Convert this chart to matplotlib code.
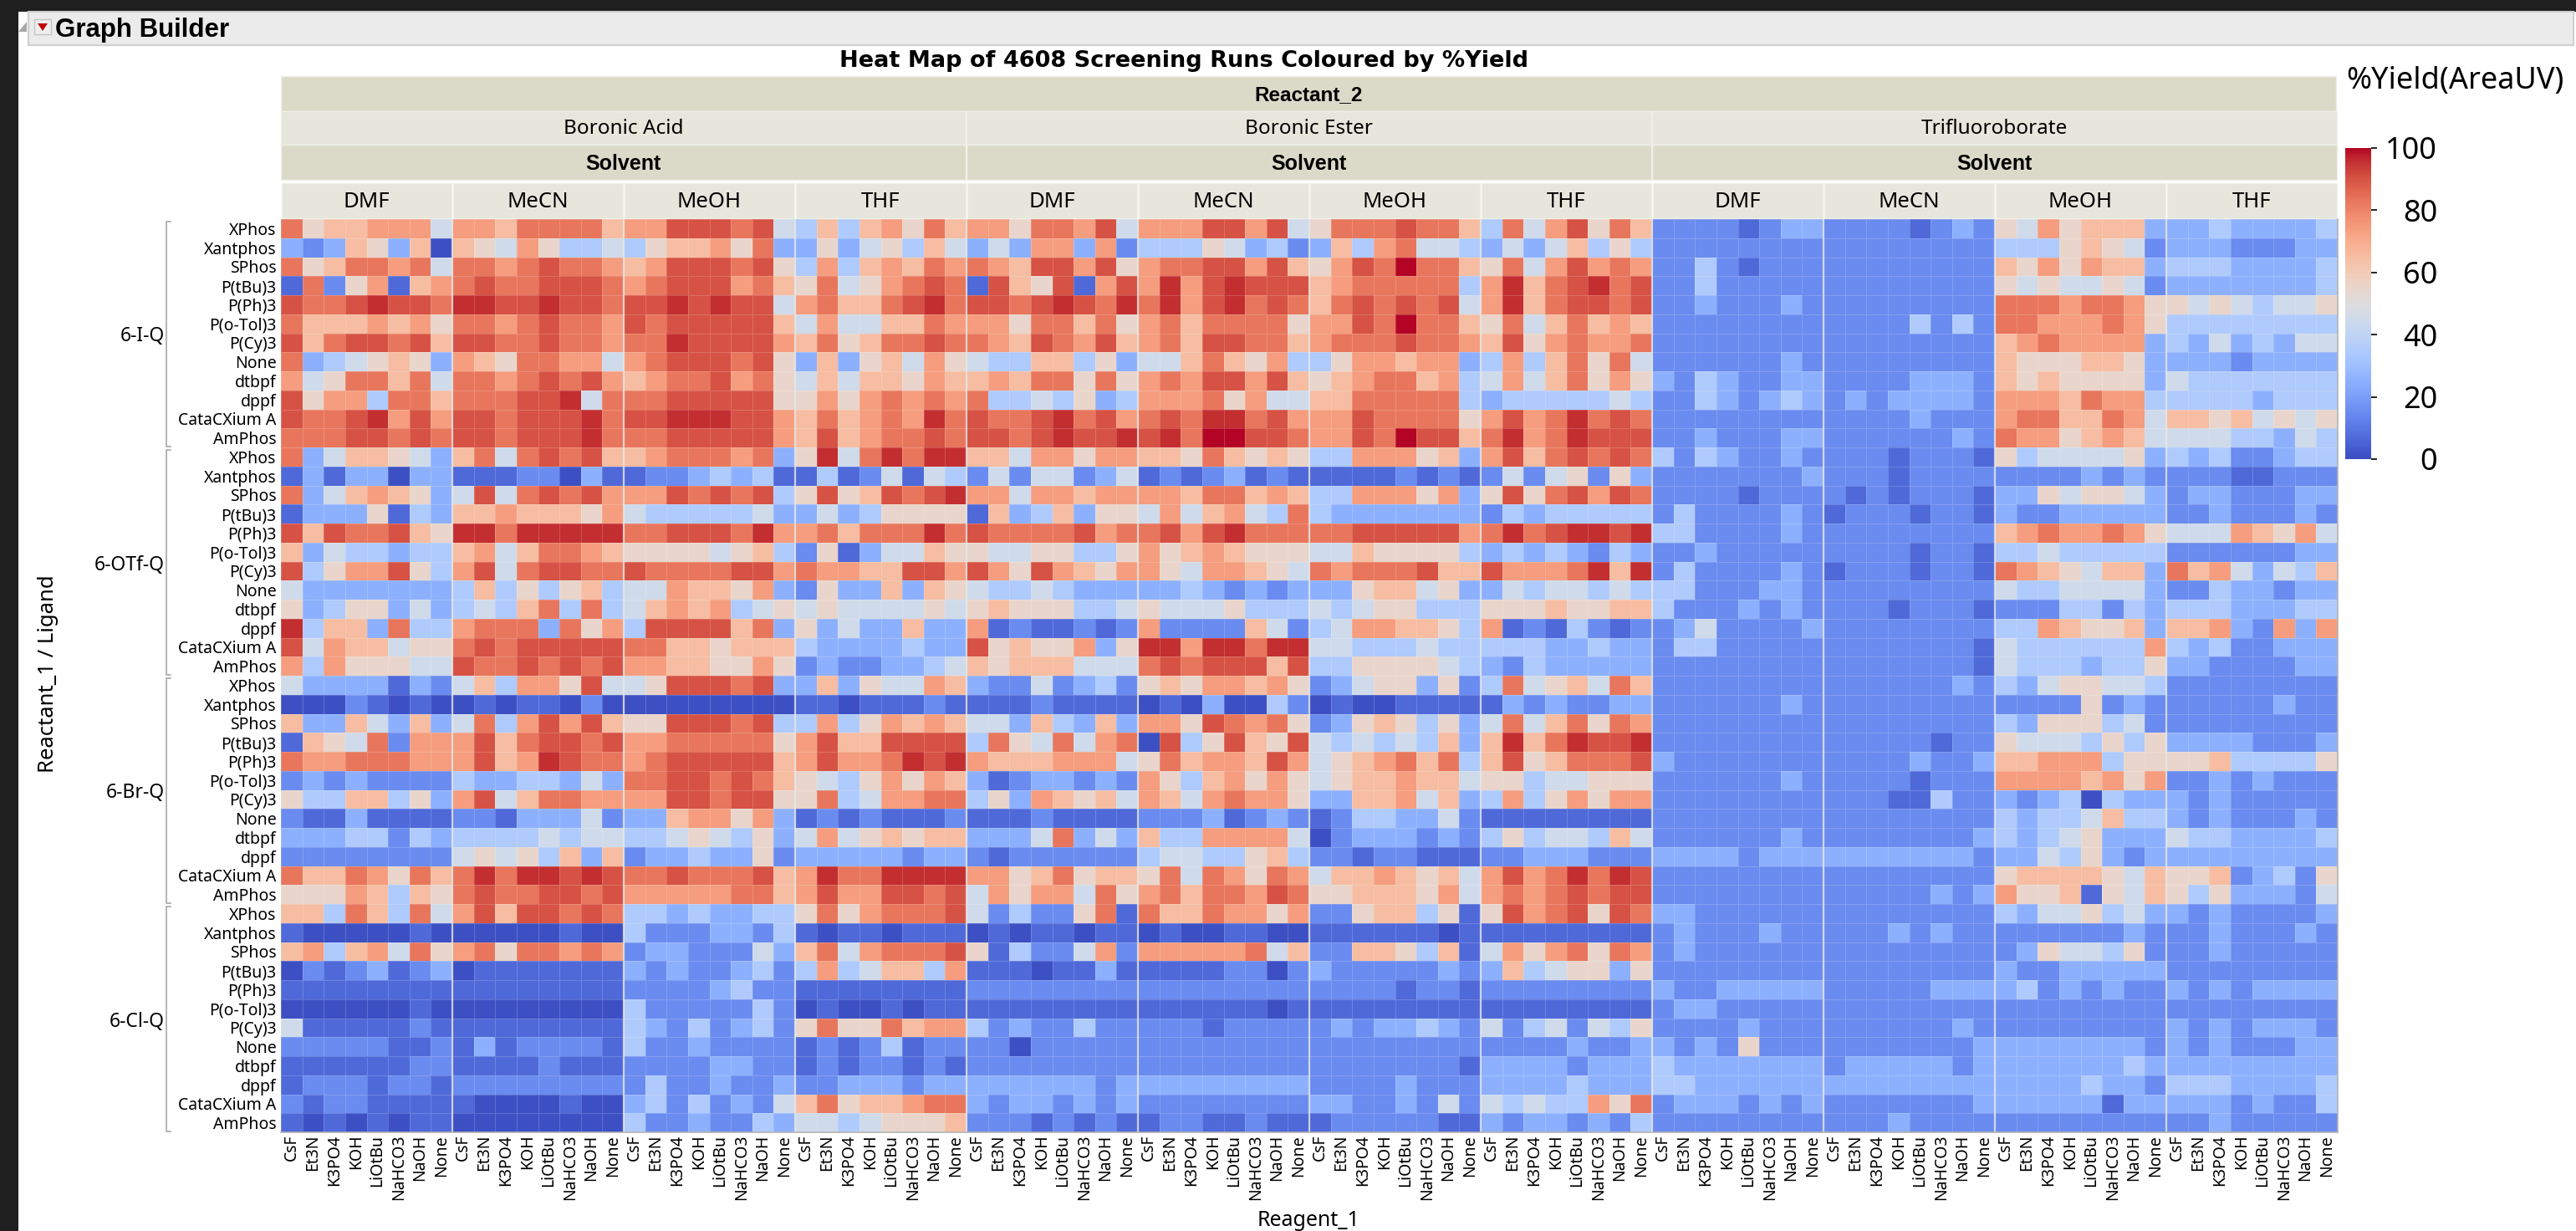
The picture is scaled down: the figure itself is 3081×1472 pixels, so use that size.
#!/usr/bin/env python
# -*- coding: utf-8 -*-

import numpy as np
import matplotlib
matplotlib.use('Agg')
import matplotlib.pyplot as plt
from matplotlib.patches import Rectangle, Polygon

plt.rcParams['font.family'] = ['Noto Sans', 'DejaVu Sans']

# labels
REACTANT_1 = ['6-I-Q', '6-OTf-Q', '6-Br-Q', '6-Cl-Q']
LIGANDS = ['XPhos', 'Xantphos', 'SPhos', 'P(tBu)3', 'P(Ph)3', 'P(o-Tol)3', 'P(Cy)3',
           'None', 'dtbpf', 'dppf', 'CataCXium A', 'AmPhos']
REACTANT_2 = ['Boronic Acid', 'Boronic Ester', 'Trifluoroborate']
SOLVENTS = ['DMF', 'MeCN', 'MeOH', 'THF']
REAGENTS = ['CsF', 'Et3N', 'K3PO4', 'KOH', 'LiOtBu', 'NaHCO3', 'NaOH', 'None']
COLORBAR_TICKS = [0, 20, 40, 60, 80, 100]

# %yield, one character per cell (see YIELD_LEVELS)
# rows: reactant_1 x ligand, groups: DMF MeCN MeOH THF
YIELD_LEVELS = {'a': 1, '0': 7, '1': 15, '2': 25, '3': 35, '4': 45, '5': 55,
                '6': 65, '7': 74, '8': 83, '9': 90, 'x': 96, 'z': 100}

BORONIC_ACID = [
    '85667774 77688886 77999894 36367586',
    '2126526a 65475334 35667582 25245364',
    '85688784 88789887 67999895 37367687',
    '08157067 89889998 78999786 58457898',
    '9889x998 xx99x998 99x9x994 786689x8',
    '86667675 88789887 98999996 47446687',
    '96899896 99889887 88x99997 68568898',
    '82345652 76588774 78999895 26256475',
    '74588684 88789897 67889785 46466576',
    '95773886 88899x48 88999995 57578787',
    '9889x797 998999x8 99xxx997 686787x8',
    '88899898 998999x8 88999997 69678898',
    '82466542 68489896 67888782 5x48x8xx',
    '02022a22 00011a20 01123230 03014043',
    '82467652 49489897 77989893 5956989x',
    '02225032 66766657 43333342 24235555',
    '96988965 xx8xxxxx 889998x7 786888x8',
    '62433233 67468876 55554563 15024465',
    '93577953 79489988 98888997 87766997',
    '42222222 36353563 44766572 15226265',
    '52355242 34368383 46767345 45444454',
    'x3662833 78882857 39999682 52422622',
    '94766455 89899999 88665666 32222322',
    '73755544 98898989 77665575 12112234',
    '42222021 46377594 45999892 26254476',
    'aaa10a0a a0a00a1a aaaaaaaa 00a00010',
    '62264262 48379796 55999893 37357676',
    '06548177 79689989 77888885 79669999',
    '87788877 7967x988 78999996 79778x9x',
    '12121111 32233242 88998986 54357576',
    '53366352 79468877 77998995 58347788',
    '10020000 11022241 22677572 01010001',
    '22233132 33334344 33454352 47456566',
    '11111111 45453626 12232251 22222122',
    '86687586 8x8xx9x9 88988896 7x88xxxx',
    '55576365 89889989 77777886 79779989',
    '66386384 79699898 33232233 58578889',
    '0aaaaa0a aaaaa0aa 31112213 0a00a000',
    '67367485 78588787 12211142 68478889',
    'a1012012 a0000000 21211231 37346637',
    '00000000 00000000 11112311 00000000',
    'aaaaaa0a aaaaaaaa 31111131 a0aa0a00',
    '40000010 00000000 32131231 58558677',
    '11111001 02011110 31121111 01013011',
    '00000011 00001000 11112211 01011010',
    '01110110 11111111 13112112 11222122',
    '10110000 0aaaa0aa 23131214 68566788',
    '0a0a0a00 aaaaaaaa 31121132 44345556',
]

BORONIC_ESTER = [
    '77588794 77799794 58889886 38479586',
    '24277271 33354231 26378443 24246353',
    '87699795 78899796 5798z886 58479787',
    '09659079 7x79x999 67888883 7x689x89',
    '9989x98x 8x79x898 68989894 7x689989',
    '77588685 78688885 7798z886 58468676',
    '87698796 78699886 78889887 69578778',
    '43366352 44686573 35776772 37368584',
    '67688585 78799796 56788673 47468575',
    '83343523 77785744 66888883 23333343',
    '9889x897 898xx897 77988885 7978x898',
    '9989x99x 9x8zz998 7798z996 8x78x999',
    '66477577 66586565 33777562 79689898',
    '14144124 01012010 00001010 14145152',
    '77477677 77688676 33777572 59589798',
    '06236255 47467438 32222222 13233333',
    '98888978 8979x888 88999997 8x89xx9x',
    '54455335 75676555 44655553 23232132',
    '97597657 75477654 87888966 97778x6x',
    '43343222 22321212 22566452 24344343',
    '56555334 54445333 43455333 55565566',
    '70100101 71111641 34776653 70103101',
    '95655725 xx7xx8xx 44333433 33322322',
    '65666444 89899969 33555543 21322222',
    '21141231 56577675 12455251 38456486',
    '00010000 a0a2aa31 a0aa0000 02121122',
    '44263262 77598785 12565352 48468587',
    '38548478 a9359659 43434362 6x68x99x',
    '76667774 58677697 45678683 69568889',
    '20122121 75367575 45667664 55344555',
    '35276564 76478775 22667462 37357577',
    '00010000 11120121 01332241 00000000',
    '22248242 63377774 a1222121 35344364',
    '10111111 34433563 11011000 11222111',
    '77568566 58487587 46676564 7978x8x9',
    '47577485 78688798 55666574 78789899',
    '41311580 86687757 11566350 59789598',
    'a0a00a00 a0aa00aa 000000a0 00000000',
    '50311471 77777846 11665360 47578587',
    '000a0020 000011a1 21111121 26345525',
    '11111111 11111111 11110110 11111111',
    '00000000 000000a0 00000000 00000000',
    '31211311 11101111 12122321 41341435',
    '11a11111 11111111 11111111 11112112',
    '11111111 11111111 11111110 22221222',
    '22222212 22222222 11112111 22223222',
    '21221212 11111111 22112141 43433758',
    '11101010 01100100 01111100 21221213',
]

TRIFLUOROBORATE = [
    '11110122 11110121 54756662 22322223',
    '11111111 11111111 33356541 22211122',
    '11310111 11111111 65757662 33322223',
    '11311111 11111111 54544541 22222223',
    '11211121 11111111 88878875 54543445',
    '11111111 11113131 88777875 33333333',
    '11111111 11111111 67877772 32423244',
    '11111121 11111111 65556652 22212222',
    '21321122 11112221 65655552 43333333',
    '11321232 12122221 77768773 33332333',
    '11111111 11112111 78866874 66564545',
    '11211122 11111121 87756764 44433243',
    '31321121 11101110 53444452 32311233',
    '11111112 11101111 11112121 11100111',
    '11110111 10101110 22545542 12211122',
    '13111121 01110110 21122222 11211121',
    '33111121 11111111 67877875 44476574',
    '11211111 11110110 33433333 11111122',
    '13111121 01110110 87654662 86742436',
    '33111221 11111111 43344442 11322122',
    '31112121 11101110 11133132 33322233',
    '12411112 11111111 33765562 66721727',
    '13311111 11111110 43333337 32311222',
    '11111111 11111110 43332335 22111122',
    '11111111 11111121 32455443 11111111',
    '11111121 11111111 11115121 11111211',
    '11111111 11111111 32555341 11111111',
    '11111111 11111011 54443535 22221112',
    '21111111 11112112 66777355 55633335',
    '11111121 11110111 77776757 11212111',
    '11111111 11100311 2123a322 21211111',
    '11111111 11111111 32334633 21211121',
    '11111121 11111112 32345222 43322223',
    '22221222 22222221 22435212 22222222',
    '11111111 11111111 56666546 55612315',
    '11111111 11111212 75560546 53522214',
    '22111111 11111111 32445342 21211112',
    '12111211 11121211 11111121 11211121',
    '12111111 11111111 12544351 11211111',
    '11111111 11111111 21122222 11111111',
    '21122222 11111222 23121211 21212222',
    '12211111 11111111 11111111 11111111',
    '11112111 11111121 11111111 21212221',
    '21215111 11111112 22222221 21211122',
    '32222222 12222212 22222232 22222222',
    '33222222 22222222 22223221 33322223',
    '12221212 11111112 22222022 22212113',
    '11111111 11121111 11111111 11211111',
]

W, H = 3081, 1472
X0, X1, Y0, Y1 = 336, 2796, 262, 1354
DARK_BAND = '#dbd9c8'
LIGHT_BAND = '#e6e6dc'
BOLD_FONT = ['Liberation Sans', 'DejaVu Sans']


def decode(rows):
    return [[YIELD_LEVELS[c] for c in r.replace(' ', '')] for r in rows]


def px_rect(x0, y0, x1, y1):
    # pixel box (y down) to figure fraction
    return [x0 / W, 1 - y1 / H, (x1 - x0) / W, (y1 - y0) / H]


yields = np.hstack([decode(BORONIC_ACID), decode(BORONIC_ESTER), decode(TRIFLUOROBORATE)])
n_rows, n_cols = yields.shape

fig = plt.figure(figsize=(W / 100, H / 100), dpi=100, facecolor='white')

# page furniture and header bands are drawn in pixel coordinates
bg = fig.add_axes([0, 0, 1, 1])
bg.set_xlim(0, W)
bg.set_ylim(H, 0)
bg.axis('off')

bg.add_patch(Rectangle((0, 0), W, 14, color='#1f1f1f', lw=0))
bg.add_patch(Rectangle((0, 0), 22, H, color='#1f1f1f', lw=0))
bg.add_patch(Rectangle((34, 14), W - 37, 40, facecolor='#ebebeb', edgecolor='#cfcfcf', lw=1.5))
bg.add_patch(Rectangle((41, 23), 20, 18, facecolor='#eeeeee', edgecolor='#c4c4c4', lw=1))
bg.add_patch(Polygon([[45, 28], [57, 28], [51, 37]], color='#c00000', lw=0))
bg.add_patch(Polygon([[22, 38], [32, 26], [32, 38]], color='#a8a8a8', lw=0))
bg.text(66, 36, 'Graph Builder', fontsize=22.5, fontweight='bold', family=BOLD_FONT,
        ha='left', va='center')

bg.text(1416, 73, 'Heat Map of 4608 Screening Runs Coloured by %Yield', fontsize=19.5,
        fontweight='bold', family=['DejaVu Sans'], ha='center', va='center')

col_w = (X1 - X0) / n_cols
row_h = (Y1 - Y0) / n_rows
n_reagents = len(REAGENTS)
n_solvents = len(SOLVENTS)


def band(x0, x1, y0, y1, color, text, bold=False, size=18):
    bg.add_patch(Rectangle((x0, y0), x1 - x0, y1 - y0, facecolor=color, edgecolor='#f0f0e8', lw=1))
    if bold:
        bg.text((x0 + x1) / 2, (y0 + y1) / 2 + 2, text, fontsize=size, ha='center', va='center',
                fontweight='bold', family=BOLD_FONT)
    else:
        bg.text((x0 + x1) / 2, (y0 + y1) / 2 + 1, text, fontsize=size, ha='center', va='center')


band(X0, X1 - 2, 91, 133, DARK_BAND, 'Reactant_2', bold=True, size=17.5)
for i, name in enumerate(REACTANT_2):
    px0 = X0 + i * n_solvents * n_reagents * col_w
    px1 = px0 + n_solvents * n_reagents * col_w
    band(px0, px1 - 1, 133, 173, LIGHT_BAND, name, size=17.5)
    band(px0, px1 - 1, 173, 215, DARK_BAND, 'Solvent', bold=True, size=18)
    for j, solvent in enumerate(SOLVENTS):
        sx0 = px0 + j * n_reagents * col_w
        band(sx0 + 1, sx0 + n_reagents * col_w - 1, 219, 261, LIGHT_BAND, solvent, size=18.5)

# heat map
ax = fig.add_axes(px_rect(X0, Y0, X1, Y1))
mesh = ax.pcolormesh(np.arange(n_cols + 1), np.arange(n_rows + 1), yields, cmap='coolwarm',
                     vmin=0, vmax=100, edgecolors=(1, 1, 1, 0.18), linewidth=0.7)
ax.set_ylim(n_rows, 0)
ax.set_xlim(0, n_cols)
for spine in ['top', 'left']:
    ax.spines[spine].set_visible(False)
for spine in ['right', 'bottom']:
    ax.spines[spine].set_color('#b4b4b4')
    ax.spines[spine].set_linewidth(1.2)

for c in range(n_reagents, n_cols, n_reagents):
    ax.axvline(c, color='#e8e8e8', lw=1.6, alpha=0.8)

ax.set_xticks(np.arange(n_cols) + 0.5)
ax.set_xticklabels(REAGENTS * (n_cols // n_reagents), rotation=90, fontsize=14)
ax.set_yticks(np.arange(n_rows) + 0.5)
ax.set_yticklabels(LIGANDS * len(REACTANT_1), fontsize=14)
ax.tick_params(axis='x', length=0, pad=2)
ax.tick_params(axis='y', length=0, pad=4)

# reactant_1 brackets and names
n_ligands = len(LIGANDS)
for i, name in enumerate(REACTANT_1):
    y_top = Y0 + i * n_ligands * row_h + 3
    y_bot = Y0 + (i + 1) * n_ligands * row_h - 1
    bg.plot([204, 199, 199, 204], [y_top, y_top, y_bot, y_bot], color='#a0a0a0', lw=1.1)
    bg.text(197, (y_top + y_bot) / 2 + 3, name, fontsize=16.5, ha='right', va='center')

bg.text(57, 806, 'Reactant_1 / Ligand', fontsize=18.5, rotation=90, ha='center', va='center')
bg.text(1565, 1460, 'Reagent_1', fontsize=18, ha='center', va='center')

# colour scale
cax = fig.add_axes(px_rect(2805, 177, 2836, 549))
cb = fig.colorbar(mesh, cax=cax)
cb.outline.set_visible(False)
cb.set_ticks(COLORBAR_TICKS)
cb.ax.tick_params(length=5, width=1.2, pad=52, labelsize=26)
for tick, lbl, value in zip(cb.ax.yaxis.get_ticklines(), cb.ax.get_yticklabels(), COLORBAR_TICKS):
    tick.set_color(plt.get_cmap('coolwarm')(value / 100))
    lbl.set_ha('right')
bg.text(2806, 97, '%Yield(AreaUV)', fontsize=26, ha='left', va='center')

fig.savefig('out.png', dpi=100)
